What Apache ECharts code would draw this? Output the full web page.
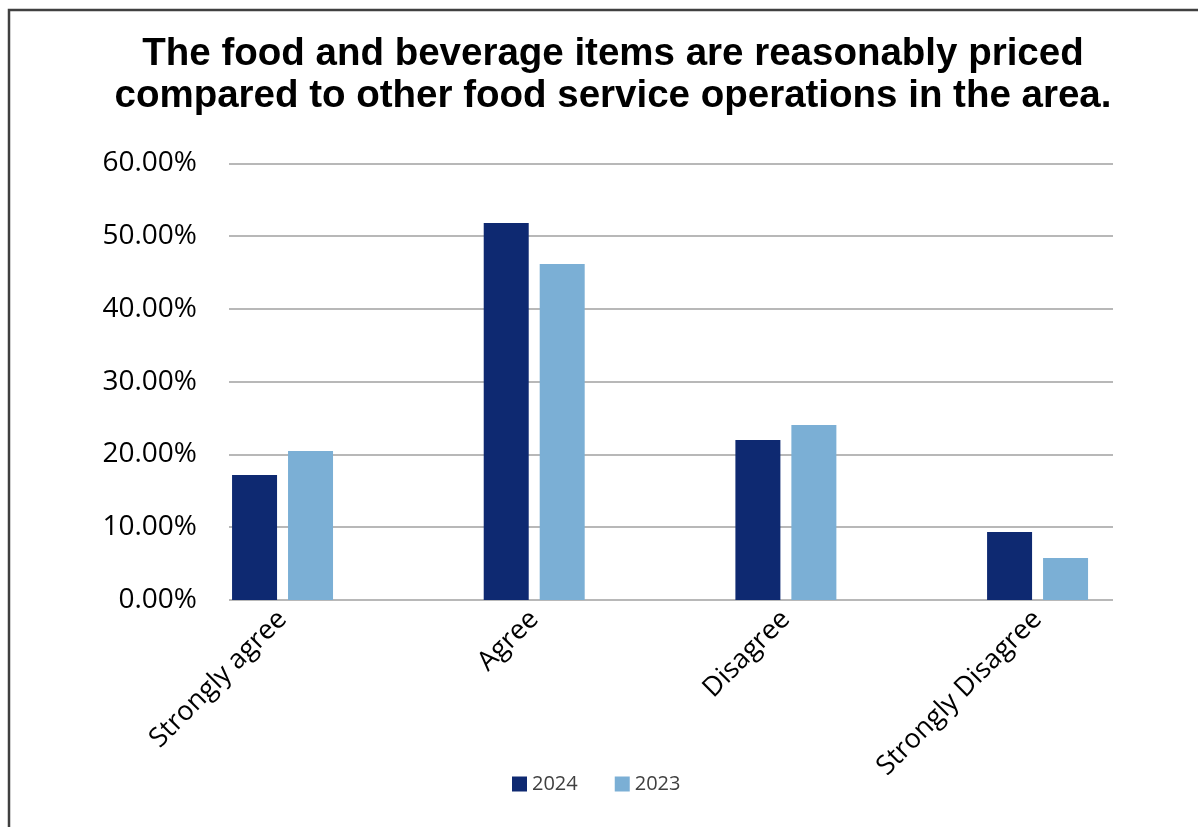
<!DOCTYPE html>
<html>
<head>
<meta charset="utf-8">
<script src="https://cdn.jsdelivr.net/npm/echarts@6/dist/echarts.min.js"></script>
<style>
  html, body { margin: 0; padding: 0; background: #fff; }
  #chart { width: 1198px; height: 827px; }
</style>
</head>
<body>
<div id="chart"></div>
<script>
const categories = ['Strongly agree', 'Agree', 'Disagree', 'Strongly Disagree'];
const values2024 = [0.1717, 0.5179, 0.2198, 0.0934];
const values2023 = [0.2047, 0.4615, 0.2404, 0.0577];
const seriesNames = ['2024', '2023'];
const seriesColors = ['#0e2971', '#7bafd5'];
const yMin = 0, yMax = 0.6, yStep = 0.1;
const titleText = 'The food and beverage items are reasonably priced\ncompared to other food service operations in the area.';

const chart = echarts.init(document.getElementById('chart'), null, { renderer: 'canvas' });

const option = {
  backgroundColor: '#ffffff',
  animation: false,
  title: {
    text: titleText,
    left: 608,
    textAlign: 'center',
    top: 28,
    textStyle: {
      fontFamily: 'Liberation Sans',
      fontSize: 38.5,
      fontWeight: 'bold',
      lineHeight: 42,
      color: '#000000'
    }
  },
  legend: {
    data: seriesNames,
    left: 512,
    top: 774,
    padding: 0,
    itemWidth: 15,
    itemHeight: 15,
    itemGap: 37,
    icon: 'rect',
    textStyle: {
      fontFamily: 'Open Sans',
      fontSize: 20,
      color: '#404040'
    }
  },
  grid: [
    { left: 156.7, top: 163.3, width: 1006.7, height: 436.7, containLabel: false },
    { left: 229, top: 163.3, width: 884, height: 436.7, containLabel: false }
  ],
  xAxis: [
    {
      type: 'category',
      gridIndex: 0,
      data: categories,
      axisLine: { show: false },
      axisTick: { show: false },
      splitLine: { show: false },
      axisLabel: {
        interval: 0,
        rotate: 45,
        margin: 15,
        fontFamily: 'Open Sans',
        fontSize: 27,
        color: '#000000'
      }
    },
    {
      type: 'value',
      gridIndex: 1,
      min: 0,
      max: 1,
      show: false
    }
  ],
  yAxis: [
    {
      type: 'value',
      gridIndex: 0,
      min: yMin,
      max: yMax,
      interval: yStep,
      show: false,
      splitLine: { show: false }
    },
    {
      type: 'value',
      gridIndex: 1,
      min: yMin,
      max: yMax,
      interval: yStep,
      axisLine: { show: false },
      axisTick: { show: false },
      splitLine: { show: true, lineStyle: { color: '#a0a0a0', width: 1.5 } },
      axisLabel: {
        margin: 32,
        fontFamily: 'Open Sans',
        fontSize: 28,
        color: '#000000',
        formatter: v => (v * 100).toFixed(2) + '%'
      }
    }
  ],
  series: [
    {
      name: seriesNames[0],
      type: 'bar',
      xAxisIndex: 0,
      yAxisIndex: 0,
      data: values2024,
      barWidth: 45,
      barGap: '24.4%',
      itemStyle: { color: seriesColors[0] }
    },
    {
      name: seriesNames[1],
      type: 'bar',
      xAxisIndex: 0,
      yAxisIndex: 0,
      data: values2023,
      barWidth: 45,
      barGap: '24.4%',
      itemStyle: { color: seriesColors[1] }
    }
  ],
  graphic: [
    {
      type: 'polyline',
      shape: { points: [[9, 827], [9, 10], [1198, 10]] },
      style: { stroke: '#404040', lineWidth: 2.5, fill: null },
      silent: true
    }
  ]
};

chart.setOption(option);
</script>
</body>
</html>
